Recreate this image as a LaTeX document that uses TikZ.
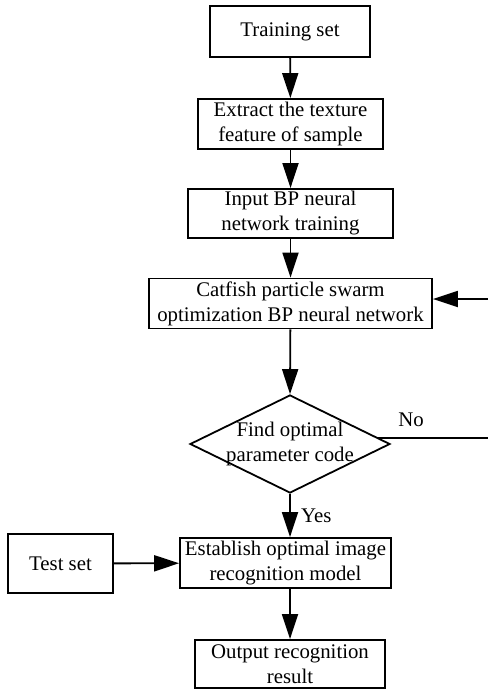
\documentclass[tikz,border=0pt]{standalone}
\usepackage{fontspec}
\setmainfont{Liberation Serif}
\usetikzlibrary{arrows.meta,shapes.geometric,calc}
\begin{document}
\begin{tikzpicture}[x=1pt,y=-1pt,
  font=\fontsize{20.8}{25}\selectfont,
  stepbox/.style={draw,line width=1.8pt,inner sep=0pt,align=center},
  flow/.style={line width=1.8pt,-{Triangle[length=25pt,width=16pt]}},
  plain/.style={line width=1.8pt}]
\useasboundingbox (0,0) rectangle (487,690);

% process boxes
\node[stepbox,minimum width=160,minimum height=51] (train) at (290,31.5) {Training set};
\node[stepbox,minimum width=185,minimum height=50] (feat) at (290.5,124) {Extract the texture\\feature of sample};
\node[stepbox,minimum width=205,minimum height=49] (bp) at (290.5,213.5) {Input BP neural\\network training};
\node[stepbox,minimum width=283,minimum height=50] (cat) at (290.5,303.5) {Catfish particle swarm\\optimization BP neural network};

% decision
\node[diamond,draw,line width=1.8pt,inner sep=0pt,minimum width=200,minimum height=98] (dia) at (290,444) {};
\node[align=center,inner sep=0pt] (diatext) at (290,444) {Find optimal\\parameter code};

\node[stepbox,minimum width=211,minimum height=50] (est) at (285.5,563) {Establish optimal image\\recognition model};
\node[stepbox,minimum width=105,minimum height=59] (test) at (60.5,563.5) {Test set};
\node[stepbox,minimum width=190,minimum height=48] (out) at (290,664) {Output recognition\\result};

% labels
\node[inner sep=0pt] (nolab) at (411,420) {No};
\node[anchor=west,inner sep=0pt] (yeslab) at (301,516) {Yes};

% main flow
\draw[flow] (train) -- (feat);
\draw[flow] (feat) -- (bp);
\draw[flow] (bp) -- (cat);
\draw[flow] (cat) -- (dia.north);
\draw[flow] (dia.south) -- (dia.south |- est.north);
\draw[flow] (test) -- (est);
\draw[flow] (out.north |- est.south) -- (out);

% feedback loop on "No"
\coordinate (loopX) at (496,299);
\draw[plain] (dia.4) -- (dia.4 -| loopX) -- (loopX);
\draw[flow] (loopX) -- (cat.east |- loopX);
\end{tikzpicture}
\end{document}
